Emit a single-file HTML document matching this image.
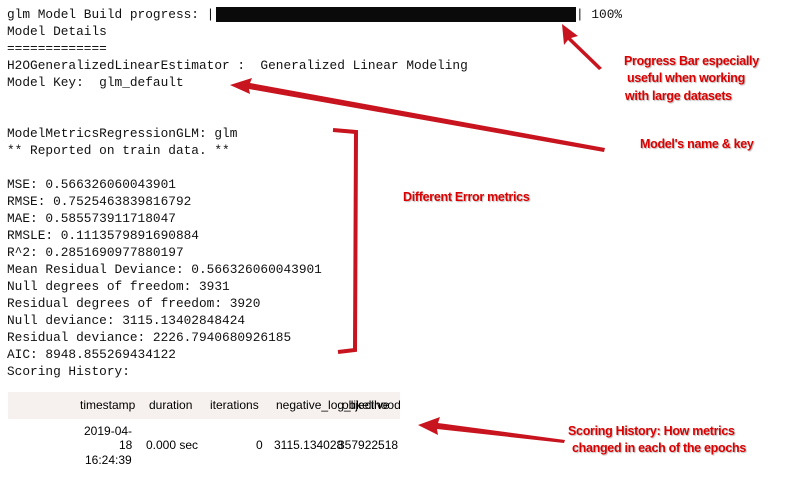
<!DOCTYPE html>
<html><head><meta charset="utf-8"><style>
body{margin:0;width:789px;height:489px;background:#fff;position:relative;overflow:hidden}
.m{position:absolute;left:7px;font-family:"Liberation Mono",monospace;font-size:12.8px;color:#111;white-space:pre;line-height:17px}
.r{position:absolute;font-family:"Liberation Sans",sans-serif;font-weight:bold;font-size:12.5px;color:#d00;white-space:nowrap;text-shadow:1px 1px 1px #bbb;letter-spacing:-0.3px}
.t{position:absolute;font-family:"Liberation Sans",sans-serif;font-size:12px;color:#000;white-space:nowrap}
</style></head><body>
<div class="m" style="top:6px">glm Model Build progress: |</div>
<div class="m" style="top:6px;left:576px">| 100%</div>
<div style="position:absolute;left:216px;top:7px;width:360px;height:15px;background:#0a0a0a"></div>
<div class="m" style="top:23px">Model Details
=============
H2OGeneralizedLinearEstimator :  Generalized Linear Modeling
Model Key:  glm_default


ModelMetricsRegressionGLM: glm
** Reported on train data. **

MSE: 0.566326060043901
RMSE: 0.7525463839816792
MAE: 0.585573911718047
RMSLE: 0.1113579891690884
R^2: 0.2851690977880197
Mean Residual Deviance: 0.566326060043901
Null degrees of freedom: 3931
Residual degrees of freedom: 3920
Null deviance: 3115.13402848424
Residual deviance: 2226.7940680926185
AIC: 8948.855269434122
Scoring History:</div>
<div style="position:absolute;left:8px;top:392px;width:392px;height:27px;background:#f6f1ee"></div>
<div class="t" style="left:80px;top:398px">timestamp</div>
<div class="t" style="left:149px;top:398px">duration</div>
<div class="t" style="left:210px;top:398px">iterations</div>
<div class="t" style="left:276px;top:398px">negative_log_likelihood</div>
<div class="t" style="left:342px;top:398px">objective</div>
<div class="t" style="left:84px;top:424px">2019-04-</div>
<div class="t" style="left:119px;top:438px">18</div>
<div class="t" style="left:146px;top:438px">0.000 sec</div>
<div class="t" style="left:256px;top:438px">0</div>
<div class="t" style="left:274px;top:438px">3115.134028</div>
<div class="t" style="left:338px;top:438px">357922518</div>
<div class="t" style="left:85px;top:453px">16:24:39</div>
<svg width="789" height="489" style="position:absolute;left:0;top:0">
<g fill="#c8141e">
<polygon points="562,24 578,36 571,38 602,68 599,70 568,40 564,45"/>
<polygon points="230,85 252,78 250,83 605,148 604,152 249,89 250,94"/>
<polygon points="418,425 440,417 438,423 565,440 564,443 437,429 438,435"/>
</g>
<polyline points="333,130 356,132 355,350 338,352" fill="none" stroke="#c8141e" stroke-width="4"/>
</svg>
<div class="r" style="left:624px;top:54px">Progress Bar especially</div>
<div class="r" style="left:627px;top:71px">useful when working</div>
<div class="r" style="left:625px;top:89px">with large datasets</div>
<div class="r" style="left:640px;top:137px">Model's name &amp; key</div>
<div class="r" style="left:403px;top:190px">Different Error metrics</div>
<div class="r" style="left:568px;top:424px">Scoring History: How metrics</div>
<div class="r" style="left:572px;top:441px">changed in each of the epochs</div>
</body></html>
